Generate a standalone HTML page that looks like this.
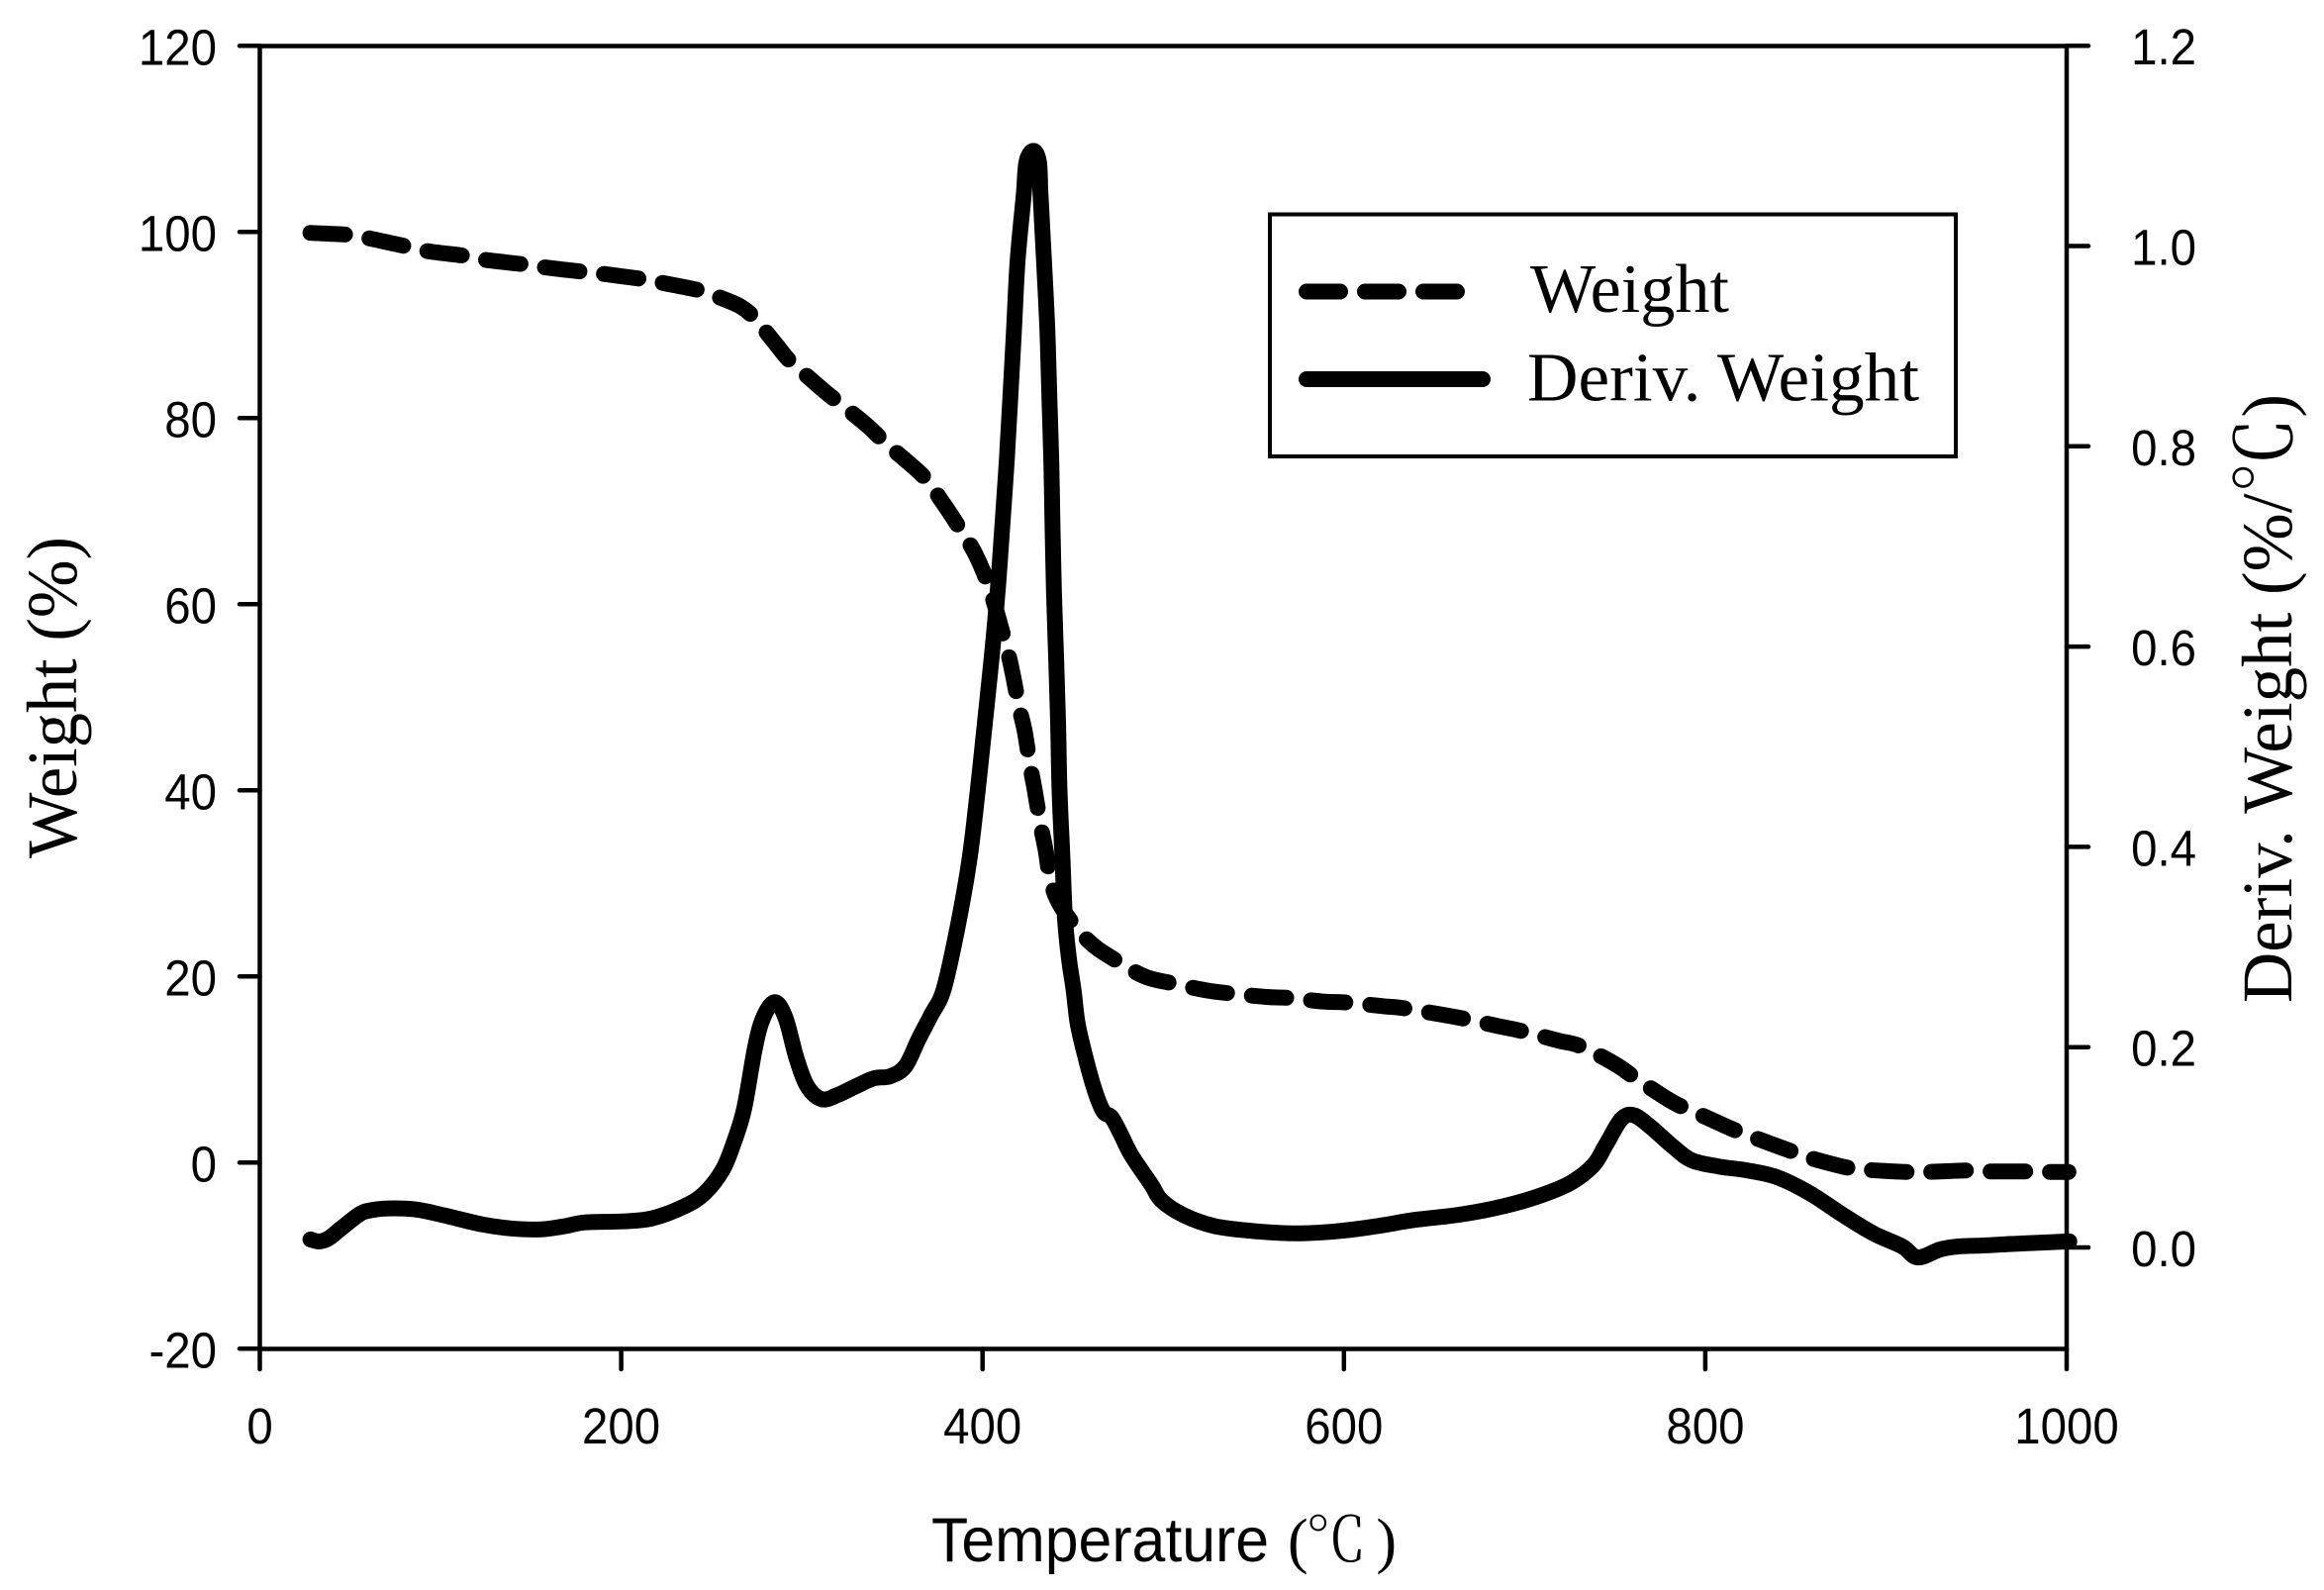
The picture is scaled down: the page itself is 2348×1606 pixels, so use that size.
<!DOCTYPE html>
<html lang="en">
<head>
<meta charset="utf-8">
<title>TGA Weight and Derivative Weight vs Temperature</title>
<style>
html,body{margin:0;padding:0;background:#fff;}
svg{display:block;}
.tick{font-family:"Liberation Sans",Arial,sans-serif;font-size:51px;fill:#000;}
.serif{font-family:"Liberation Serif","Noto Serif CJK SC",serif;fill:#000;}
</style>
</head>
<body>
<svg id="chart" xmlns="http://www.w3.org/2000/svg" width="2348" height="1606" viewBox="0 0 2348 1606">
  <rect x="0" y="0" width="2348" height="1606" fill="#fff"/>
  <g id="series"></g>
  <rect x="262.5" y="46.5" width="1825.5" height="1316" fill="none" stroke="#000" stroke-width="4.5"/>
  <g id="axes"></g>
  <text x="941" y="1577" font-family="'Liberation Sans',Arial,sans-serif" font-size="63" textLength="341" lengthAdjust="spacingAndGlyphs">Temperature</text>
  <text x="1301" y="1577" font-family="'Liberation Serif','Noto Serif CJK SC',serif" font-size="62" font-weight="300" textLength="110" lengthAdjust="spacing">(℃ )</text>
  <text class="serif" transform="translate(77,867) rotate(-90)" font-size="72" textLength="325" lengthAdjust="spacingAndGlyphs">Weight (%)</text>
  <text class="serif" transform="translate(2315,1013) rotate(-90)" font-size="72" textLength="615" lengthAdjust="spacingAndGlyphs">Deriv. Weight (%/<tspan font-size="78">℃</tspan>)</text>
  <g>
    <rect x="1283" y="216.5" width="693" height="244.5" fill="#fff" stroke="#000" stroke-width="4"/>
    <line x1="1320" y1="294.5" x2="1472" y2="294.5" stroke="#000" stroke-width="16" stroke-linecap="round" stroke-dasharray="34 25"/>
    <text class="serif" x="1546" y="315" font-size="70" textLength="201" lengthAdjust="spacingAndGlyphs">Weight</text>
    <line x1="1320" y1="383" x2="1498" y2="383" stroke="#000" stroke-width="16" stroke-linecap="round"/>
    <text class="serif" x="1543" y="404.5" font-size="70" textLength="396" lengthAdjust="spacingAndGlyphs">Deriv. Weight</text>
  </g>
</svg>
<script>
var xTicks = [0, 200, 400, 600, 800, 1000];
var leftTicks = [-20, 0, 20, 40, 60, 80, 100, 120];
var rightTicks = ["0.0", "0.2", "0.4", "0.6", "0.8", "1.0", "1.2"];

var weightTemps = [28,49,61,82,94,115,125,147,157.5,180,190,213,221,244,254,266,274,285,293,303,315,335,347,367,377,389.2,396.5,404.2,413.5,416.6,420.3,423.4,426.3,429,432.1,434.9,438,444.4,458.1,472.3,489.7,504.3,524,536,557,569,589,601.7,622,633,654,665.5,687,697,719,731,750,762,782,794.5,815,827,848,858,880,891,911,924,944,956,977,987,1001];
var weightValues = [99.9,99.7,99.3,98.4,97.9,97.4,97,96.5,96.2,95.7,95.5,94.9,94.6,93.7,93,92,90.7,88.1,86.2,84.5,82.5,79.4,77.2,73.8,71.2,67.6,65.2,61.5,55.2,52.6,48.9,46.3,42.7,39.9,36.3,33.6,30,27.2,23.9,21.9,20,19.3,18.5,18.2,17.8,17.7,17.3,17.2,16.8,16.6,15.9,15.5,14.6,14.2,13.1,12.5,10.6,9,6.5,5.4,3.6,2.7,1.2,0.5,-0.6,-0.8,-1,-1,-0.85,-0.95,-0.95,-1,-1];

var derivTemps = [28,33,38,45,55,61,71,86,102,123,139,155,168,180,200.6,217,235,246,256,262,268,274,278.5,285,291,297,303,311,319.5,330,340,349,357.3,364.6,371.5,378.5,386.5,392.9,397.3,401.3,405.1,408.4,411.1,413.5,415.5,417.5,419.4,422.8,424.3,428.1,431.2,432.1,434,435.8,436.9,438,438.7,439.5,440.7,441.8,442.6,444.2,445.6,447.7,450.4,452.6,456.8,461.9,466.8,471.4,476,482.4,493.3,499,511.5,528,549,573.5,598,619,639.5,664,688,709,725.5,738,745,753.5,760.5,770,782.5,792.5,807,823,840,858,876.5,893,909,917.6,930,940,954,975,1001.5];
var derivValues = [0.008,0.006,0.009,0.019,0.033,0.037,0.039,0.038,0.032,0.023,0.019,0.018,0.021,0.025,0.026,0.029,0.041,0.054,0.077,0.103,0.138,0.199,0.229,0.245,0.229,0.189,0.161,0.148,0.152,0.161,0.169,0.171,0.181,0.208,0.232,0.258,0.323,0.389,0.456,0.524,0.59,0.656,0.725,0.788,0.853,0.919,0.985,1.051,1.084,1.095,1.084,1.051,0.985,0.919,0.853,0.788,0.725,0.656,0.59,0.524,0.456,0.39,0.33,0.29,0.257,0.224,0.191,0.158,0.136,0.13,0.115,0.092,0.063,0.047,0.032,0.0215,0.0165,0.014,0.0165,0.0215,0.0276,0.0327,0.041,0.052,0.0645,0.082,0.1025,0.128,0.132,0.12,0.1,0.087,0.081,0.077,0.07,0.054,0.032,0.014,0.001,-0.01,-0.002,0.001,0.002,0.004,0.006];

var NS = 'http://www.w3.org/2000/svg';
var axesLayer = document.getElementById('axes');
var seriesLayer = document.getElementById('series');

function xScale(t) { return 262.5 + t * 1.8255; }
function yLeft(v) { return 1174.3 - v * 9.4; }
function yRight(v) { return 1260 - v * 1011.5; }

function makeTick(x1, y1, x2, y2) {
  var el = document.createElementNS(NS, 'line');
  el.setAttribute('x1', x1);
  el.setAttribute('y1', y1);
  el.setAttribute('x2', x2);
  el.setAttribute('y2', y2);
  el.setAttribute('stroke', '#000');
  el.setAttribute('stroke-width', '4.5');
  el.setAttribute('stroke-linecap', 'round');
  axesLayer.appendChild(el);
  return el;
}
function makeLabel(x, y, anchor, str) {
  var el = document.createElementNS(NS, 'text');
  el.setAttribute('class', 'tick');
  el.setAttribute('transform', 'translate(' + x + ',' + y + ') scale(0.93,1)');
  el.setAttribute('text-anchor', anchor);
  el.textContent = str;
  axesLayer.appendChild(el);
  return el;
}
function buildPath(xs, ys, yFn) {
  var px = xs.map(xScale);
  var py = ys.map(yFn);
  var n = px.length;
  var d = 'M' + px[0].toFixed(1) + ' ' + py[0].toFixed(1);
  var k = 1 / 6;
  for (var i = 0; i < n - 1; i++) {
    var a = Math.max(i - 1, 0);
    var b = Math.min(i + 2, n - 1);
    var c1x = px[i] + (px[i + 1] - px[a]) * k;
    var c1y = py[i] + (py[i + 1] - py[a]) * k;
    var c2x = px[i + 1] - (px[b] - px[i]) * k;
    var c2y = py[i + 1] - (py[b] - py[i]) * k;
    d += 'C' + c1x.toFixed(1) + ' ' + c1y.toFixed(1) + ' ' + c2x.toFixed(1) + ' ' + c2y.toFixed(1) + ' ' + px[i + 1].toFixed(1) + ' ' + py[i + 1].toFixed(1);
  }
  return d;
}

xTicks.forEach(function (t) {
  var tick = makeTick(xScale(t), 1362.5, xScale(t), 1383);
  
  
  var label = makeLabel(xScale(t), 1458, 'middle', String(t));
  
  
});
leftTicks.forEach(function (v) {
  var tick = makeTick(242, yLeft(v), 262.5, yLeft(v));
  
  
  var label = makeLabel(219, yLeft(v) + 19, 'end', String(v));
  
  
});
rightTicks.forEach(function (s) {
  var v = parseFloat(s);
  var tick = makeTick(2088, yRight(v), 2110, yRight(v));
  
  
  var label = makeLabel(2219, yRight(v) + 19, 'end', s);
  
  
});

var weightLine = document.createElementNS(NS, 'path');
weightLine.setAttribute('d', buildPath(weightTemps, weightValues, yLeft));
weightLine.setAttribute('fill', 'none');
weightLine.setAttribute('stroke', '#000');
weightLine.setAttribute('stroke-width', '16');
weightLine.setAttribute('stroke-linecap', 'round');
weightLine.setAttribute('stroke-linejoin', 'round');
weightLine.setAttribute('stroke-dasharray', '35 25');


seriesLayer.appendChild(weightLine);

var derivLine = document.createElementNS(NS, 'path');
derivLine.setAttribute('d', buildPath(derivTemps, derivValues, yRight));
derivLine.setAttribute('fill', 'none');
derivLine.setAttribute('stroke', '#000');
derivLine.setAttribute('stroke-width', '16');
derivLine.setAttribute('stroke-linecap', 'round');
derivLine.setAttribute('stroke-linejoin', 'round');


seriesLayer.appendChild(derivLine);
</script>
</body>
</html>
